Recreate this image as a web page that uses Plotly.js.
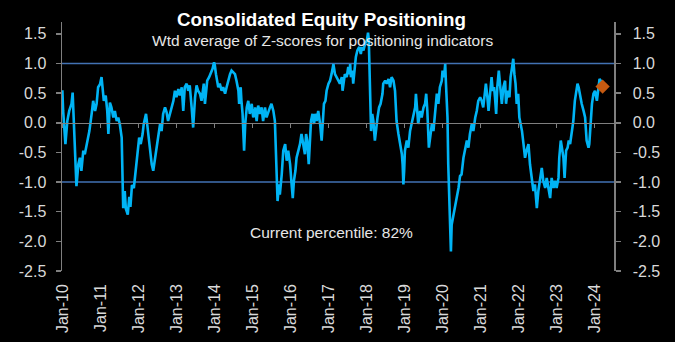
<!DOCTYPE html>
<html>
<head>
<meta charset="utf-8">
<script src="https://cdn.plot.ly/plotly-3.0.1.min.js"></script>
<style>html,body{margin:0;padding:0;background:#000;}#chart{width:675px;height:342px;}</style>
</head>
<body>
<div id="chart"></div>
<script>
// Time in decimal years
const dates = [
2010.00,2010.02,2010.08,2010.13,2010.18,2010.24,2010.27,2010.30,2010.33,2010.37,2010.42,2010.46,2010.50,2010.55,2010.59,2010.64,2010.71,2010.77,2010.81,2010.86,2010.90,2010.94,2010.99,
2011.03,2011.06,2011.09,2011.14,2011.18,2011.21,2011.25,2011.29,2011.34,2011.38,2011.43,2011.47,2011.51,2011.56,2011.58,2011.60,2011.64,2011.67,2011.72,2011.76,2011.79,2011.83,2011.88,2011.93,2011.97,
2012.02,2012.06,2012.11,2012.14,2012.20,2012.23,2012.26,2012.30,2012.35,2012.39,2012.43,2012.48,2012.52,2012.57,2012.61,2012.65,2012.70,2012.74,2012.78,2012.83,2012.87,2012.92,2012.96,
2013.00,2013.05,2013.09,2013.14,2013.18,2013.22,2013.27,2013.31,2013.35,2013.40,2013.44,2013.49,2013.53,2013.57,2013.62,2013.66,2013.69,2013.72,2013.75,2013.78,2013.81,2013.86,2013.90,2013.95,2013.99,
2014.01,2014.04,2014.07,2014.10,2014.14,2014.19,2014.23,2014.28,2014.32,2014.36,2014.41,2014.45,2014.50,2014.54,2014.58,2014.63,2014.65,2014.69,2014.71,2014.74,2014.78,2014.81,2014.85,2014.89,2014.93,2014.98,
2015.02,2015.07,2015.11,2015.15,2015.20,2015.24,2015.28,2015.33,2015.37,2015.42,2015.46,2015.50,2015.55,2015.59,2015.62,2015.64,2015.66,2015.70,2015.72,2015.77,2015.81,2015.86,2015.90,2015.94,2015.99,
2016.03,2016.06,2016.09,2016.13,2016.16,2016.21,2016.25,2016.29,2016.34,2016.38,2016.41,2016.44,2016.48,2016.51,2016.54,2016.58,2016.62,2016.65,2016.69,2016.73,2016.78,2016.82,2016.85,2016.88,2016.92,2016.95,
2017.00,2017.04,2017.08,2017.13,2017.17,2017.22,2017.26,2017.30,2017.35,2017.37,2017.41,2017.43,2017.48,2017.52,2017.55,2017.57,2017.59,2017.63,2017.65,2017.70,2017.72,2017.76,2017.81,2017.85,2017.88,2017.92,2017.96,
2018.01,2018.04,2018.06,2018.08,2018.09,2018.12,2018.15,2018.18,2018.22,2018.25,2018.29,2018.33,2018.37,2018.42,2018.44,2018.49,2018.53,2018.58,2018.62,2018.66,2018.71,2018.75,2018.78,2018.79,2018.84,2018.88,2018.93,2018.95,2018.97,2018.99,
2019.01,2019.06,2019.10,2019.145,2019.19,2019.23,2019.28,2019.30,2019.34,2019.36,2019.41,2019.45,2019.50,2019.54,2019.57,2019.60,2019.64,2019.67,2019.72,2019.76,2019.80,2019.85,2019.89,2019.93,2019.98,
2020.00,2020.04,2020.07,2020.09,2020.13,2020.15,2020.18,2020.22,2020.24,2020.29,2020.33,2020.37,2020.42,2020.46,2020.50,2020.55,2020.59,2020.64,2020.68,2020.72,2020.77,2020.81,2020.86,2020.90,2020.94,2020.99,
2021.03,2021.07,2021.12,2021.14,2021.18,2021.21,2021.25,2021.29,2021.32,2021.355,2021.38,2021.41,2021.44,2021.48,2021.51,2021.56,2021.60,2021.645,2021.67,2021.71,2021.76,2021.79,2021.83,2021.86,2021.89,2021.92,2021.95,2021.99,
2022.02,2022.06,2022.09,2022.13,2022.17,2022.21,2022.26,2022.30,2022.35,2022.39,2022.43,2022.48,2022.52,2022.57,2022.61,2022.65,2022.70,2022.74,2022.79,2022.83,2022.87,2022.92,2022.96,
2023.00,2023.05,2023.07,2023.11,2023.145,2023.18,2023.21,2023.25,2023.29,2023.32,2023.355,2023.40,2023.44,2023.48,2023.51,2023.55,2023.58,2023.62,2023.66,2023.71,2023.75,2023.79,2023.84,2023.86,2023.90,2023.93,2023.97,
2024.01,2024.06,2024.10,2024.13,2024.16,2024.20
];
// Weighted average of Z-scores
const zscore = [
0.55,0.2,-0.36,0.03,0.2,0.32,0.51,0.03,-0.59,-1.07,-0.70,-0.59,-0.81,-0.47,-0.53,-0.36,-0.14,0.15,0.37,0.2,0.32,0.6,0.65,
0.77,0.54,0.37,0.46,0.2,-0.19,0.34,0.26,0.09,0.2,0.03,0.09,-0.02,-0.25,-0.87,-1.44,-1.15,-1.45,-1.55,-1.25,-1.42,-1.05,-1.1,-0.76,-0.47,
-0.25,-0.36,-0.19,-0.02,0.15,-0.02,-0.19,-0.36,-0.70,-0.81,-0.64,-0.36,-0.19,-0.02,-0.14,0.15,0.26,0.18,0.03,0.15,0.26,0.37,0.54,
0.43,0.57,0.46,0.6,0.2,0.6,0.66,0.54,0.63,0.26,-0.08,0.43,0.63,0.54,0.49,0.37,0.54,0.66,0.32,0.6,0.71,0.77,0.82,0.91,1.02,
0.97,0.82,0.71,0.6,0.66,0.54,0.6,0.49,0.6,0.71,0.82,0.88,0.85,0.82,0.71,0.54,0.32,0.6,0.37,0.15,-0.47,-0.02,0.26,0.37,0.15,0.32,
0.09,0.26,0.03,0.29,0.15,0.26,0.03,0.26,0.09,0.2,0.26,0.32,0.2,0.03,-0.47,-1.04,-1.32,-1.04,-1.21,-0.87,-0.47,-0.36,-0.64,-0.47,-0.7,
-1.04,-1.27,-0.98,-0.81,-0.59,-0.47,-0.36,-0.19,-0.36,-0.53,-0.19,-0.3,-0.7,-0.42,0.03,0.15,-0.02,0.15,0.03,0.2,-0.02,-0.3,0.15,0.32,0.37,0.54,
0.66,0.71,0.82,0.99,0.82,0.77,0.71,0.66,0.77,0.54,0.71,0.82,0.77,0.94,0.82,0.99,0.77,0.88,0.66,0.94,1.11,1.22,1.28,1.16,1.28,1.22,1.33,
1.39,1.52,1.4,0.82,0.32,-0.14,0.15,0.03,-0.3,-0.08,0.09,0.26,0.32,0.49,0.66,0.71,0.66,0.74,0.6,0.77,0.71,0.54,0.2,0.03,-0.19,-0.36,-0.53,-0.7,-1.04,-0.81,
-0.47,-0.3,-0.42,-0.14,-0.02,0.09,0.26,0.49,0.2,-0.02,0.2,0.09,0.26,0.32,0.49,0.2,-0.42,-0.25,-0.02,-0.14,0.2,0.49,0.32,0.6,0.71,
0.88,0.77,0.99,0.66,0.09,-0.7,-1.49,-2.17,-1.72,-1.55,-1.38,-1.27,-1.1,-0.9,-0.87,-0.59,-0.47,-0.3,-0.42,-0.19,-0.02,-0.14,0.09,0.2,0.37,0.43,
0.37,0.26,0.54,0.66,0.43,0.2,0.49,0.77,0.54,0.6,0.43,0.15,0.6,0.88,0.66,0.32,0.6,0.71,0.32,0.54,0.43,0.77,0.94,1.08,0.82,0.66,0.32,0.49,
0.09,-0.02,-0.14,-0.36,-0.59,-0.47,-0.36,-0.7,-0.98,-1.15,-1.04,-1.44,-1.15,-0.93,-0.76,-0.98,-1.1,-0.93,-1.1,-1.27,-0.93,-1.1,-0.98,
-1.1,-0.93,-0.59,-0.3,-0.47,-0.59,-0.93,-0.47,-0.42,-0.3,-0.36,-0.19,0.03,0.37,0.49,0.66,0.6,0.43,0.32,0.2,0.09,-0.3,-0.42,-0.36,0.09,0.32,0.49,
0.54,0.37,0.66,0.74,0.71,0.68
];
// Current reading (orange diamond)
const currentDate = [2024.21];
const currentValue = [0.61];
// Reference levels
const refLevels = [1, -1];
// Axis ticks
const yearTicks = [2010,2011,2012,2013,2014,2015,2016,2017,2018,2019,2020,2021,2022,2023,2024];
const yearLabels = ["Jan-10","Jan-11","Jan-12","Jan-13","Jan-14","Jan-15","Jan-16","Jan-17","Jan-18","Jan-19","Jan-20","Jan-21","Jan-22","Jan-23","Jan-24"];
const yTicks = [-2.5,-2.0,-1.5,-1.0,-0.5,0.0,0.5,1.0,1.5];
const yLabels = ["-2.5","-2.0","-1.5","-1.0","-0.5","0.0","0.5","1.0","1.5"];

const tickFont = {family: "Liberation Sans, Arial, sans-serif", size: 16, color: "#d9d9d9"};
const axisGray = "#7f7f7f";
const yRange = [-2.5, 1.7];

const traces = [
  {x: dates, y: zscore, type: "scatter", mode: "lines", line: {color: "#00b4f5", width: 2.6}, xaxis: "x", yaxis: "y", hoverinfo: "skip"},
  {x: currentDate, y: currentValue, type: "scatter", mode: "markers", marker: {symbol: "diamond", size: 11, color: "#c55a11"}, xaxis: "x", yaxis: "y"},
  {x: [dates[0]], y: [zscore[0]], type: "scatter", mode: "markers", marker: {opacity: 0}, xaxis: "x2", yaxis: "y2", hoverinfo: "skip"}
];

const shapes = refLevels.map(v => ({
  type: "line", xref: "paper", x0: 0, x1: 1, yref: "y", y0: v, y1: v,
  line: {color: "#4272b4", width: 1.6}, layer: "below"
}));

const layout = {
  width: 675, height: 342,
  margin: {l: 62, r: 61, t: 22, b: 71, pad: 0},
  paper_bgcolor: "#000", plot_bgcolor: "#000",
  showlegend: false,
  font: {family: "Liberation Sans, Arial, sans-serif", color: "#d9d9d9"},
  title: {
    text: "<b>Consolidated Equity Positioning</b>",
    font: {family: "Liberation Sans, Arial, sans-serif", size: 18.8, color: "#ffffff"},
    xref: "container", x: 321.5/675, xanchor: "center",
    yref: "container", y: 1 - 19/342, yanchor: "middle"
  },
  xaxis: {
    range: [2009.99, 2024.51], tickvals: yearTicks, ticktext: yearLabels, tickangle: -90,
    showline: false, ticks: "", showgrid: false, zeroline: false,
    tickfont: tickFont, ticklabelstandoff: 9
  },
  xaxis2: {
    overlaying: "x", matches: "x", anchor: "free", position: 2.5/4.2, side: "bottom",
    range: [2009.99, 2024.51], tickvals: yearTicks, showticklabels: false,
    showline: true, linecolor: axisGray, linewidth: 1.5,
    ticks: "outside", ticklen: 4, tickcolor: axisGray, tickwidth: 1.5,
    showgrid: false, zeroline: false
  },
  yaxis: {
    range: yRange, tickvals: yTicks, ticktext: yLabels,
    showline: true, linecolor: axisGray, linewidth: 1.5,
    ticks: "outside", ticklen: 5, tickcolor: axisGray, tickwidth: 1.5,
    showgrid: false, zeroline: false, tickfont: tickFont, ticklabelstandoff: 6
  },
  yaxis2: {
    overlaying: "y", matches: "y", side: "right", anchor: "x",
    range: yRange, tickvals: yTicks, ticktext: yLabels,
    showline: true, linecolor: axisGray, linewidth: 1.5,
    ticks: "outside", ticklen: 5, tickcolor: axisGray, tickwidth: 1.5,
    showgrid: false, zeroline: false, tickfont: tickFont, ticklabelstandoff: 9
  },
  shapes: shapes,
  annotations: [
    {text: "Wtd average of Z-scores for positioning indicators", xref: "paper", yref: "paper",
     x: (322-62)/552, y: (271-40)/249, xanchor: "center", yanchor: "middle", showarrow: false,
     font: {family: "Liberation Sans, Arial, sans-serif", size: 15.5, color: "#e6e6e6"}},
    {text: "Current percentile: 82%", xref: "paper", yref: "paper",
     x: (331-62)/552, y: (271-232)/249, xanchor: "center", yanchor: "middle", showarrow: false,
     font: {family: "Liberation Sans, Arial, sans-serif", size: 15.5, color: "#e6e6e6"}}
  ]
};

Plotly.newPlot("chart", traces, layout, {displayModeBar: false, staticPlot: true});
</script>
</body>
</html>
